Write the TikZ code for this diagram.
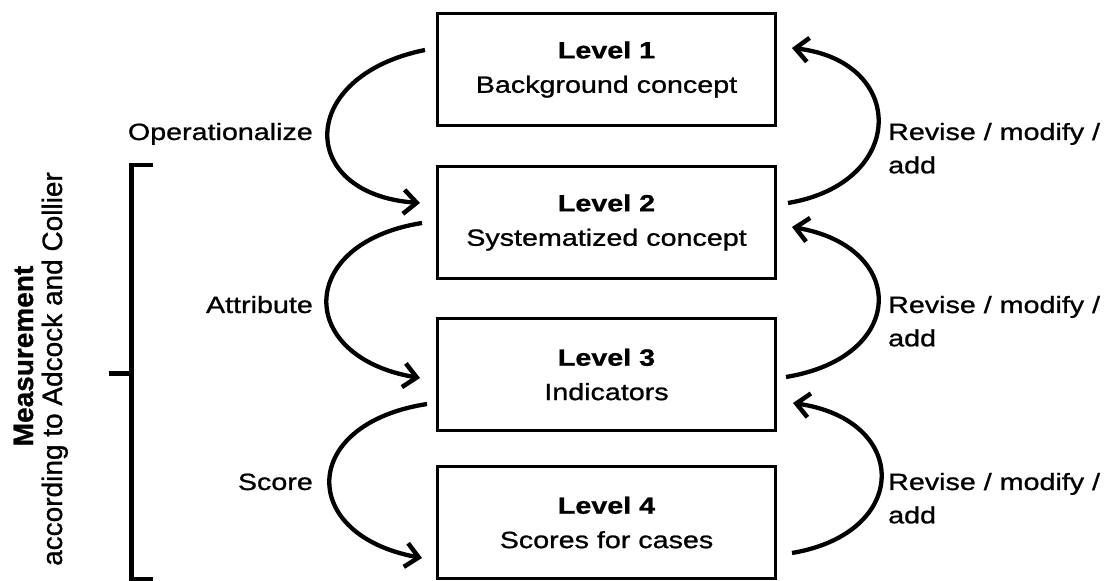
\documentclass[tikz,border=0pt]{standalone}
\usepackage{fontspec}
\setmainfont{Liberation Sans}[FakeStretch=1.22,FakeBold=1]
\newfontfamily\rotfont{Liberation Sans}[FakeBold=1]
\usetikzlibrary{arrows.meta}
\begin{document}
\begin{tikzpicture}[x=1pt,y=1pt,
  lvl/.style={draw,line width=3pt,minimum width=338pt,minimum height=112pt,align=center,font=\fontsize{23.5}{34.4}\selectfont,inner sep=0pt},
  arc/.style={line width=4.3pt,-{Straight Barb[length=13pt,width=24pt,line width=4.5pt]}},
  lab/.style={font=\fontsize{23.5}{33.3}\selectfont,inner sep=0pt},
  brk/.style={line width=4.5pt},
  rot/.style={rotate=90,anchor=base,inner sep=0pt,font=\rotfont\fontsize{28}{29}\selectfont}]
\useasboundingbox (0,0) rectangle (1109,581);
\node[lvl] (b1) at (606.5,511.5) {\textbf{Level 1}\\Background concept};
\node[lvl] (b2) at (606.5,358.5) {\textbf{Level 2}\\Systematized concept};
\node[lvl] (b3) at (606.5,206.5) {\textbf{Level 3}\\Indicators};
\node[lvl] (b4) at (606.5,58.5) {\textbf{Level 4}\\Scores for cases};
% left arrows
\draw[arc] ([shift={(-11,19.5)}]b1.west) .. controls (296.5,505) and (296.5,387) .. ([shift={(-16,19.5)}]b2.west);
\draw[arc] ([shift={(-14,-0.5)}]b2.west) .. controls (295.7,338) and (295.7,224) .. ([shift={(-16,-3.5)}]b3.west);
\draw[arc] ([shift={(-9,-29.5)}]b3.west) .. controls (298.5,157) and (298.5,45.7) .. ([shift={(-14,-35.5)}]b4.west);
% right arrows
\draw[arc] ([shift={(11,19.5)}]b2.east) .. controls (907.3,398) and (907.3,519.7) .. ([shift={(15,21.5)}]b1.east);
\draw[arc] ([shift={(9,-2.5)}]b3.east) .. controls (907.7,224) and (907.7,334) .. ([shift={(15,-4.5)}]b2.east);
\draw[arc] ([shift={(15,-30.5)}]b4.east) .. controls (910.5,48) and (910.5,160.7) .. ([shift={(16,-28.5)}]b3.east);
% labels
\node[lab,anchor=base east] (op) at (313,441) {Operationalize};
\node[lab,anchor=base east] (at) at (313,268) {Attribute};
\node[lab,anchor=base east] (sc) at (313,91) {Score};
\node[lab,anchor=base west,align=left] (r1) at (888,407.7) {Revise / modify /\\add};
\node[lab,anchor=base west,align=left] (r2) at (888,234.7) {Revise / modify /\\add};
\node[lab,anchor=base west,align=left] (r3) at (888,57.7) {Revise / modify /\\add};
% bracket
\coordinate (bt) at (153,416);
\coordinate (bb) at (153,2);
\coordinate (bm) at (109,207.7);
\draw[brk] (bt) -- (131.7,416) -- (131.7,2) -- (bb);
\draw[brk] (bm) -- (131.7,207.7);
\node[rot] (meas) at (33,225) {\textbf{Measurement}};
\node[rot] (acc) at (62,212) {according to Adcock and Collier};
\end{tikzpicture}
\end{document}
